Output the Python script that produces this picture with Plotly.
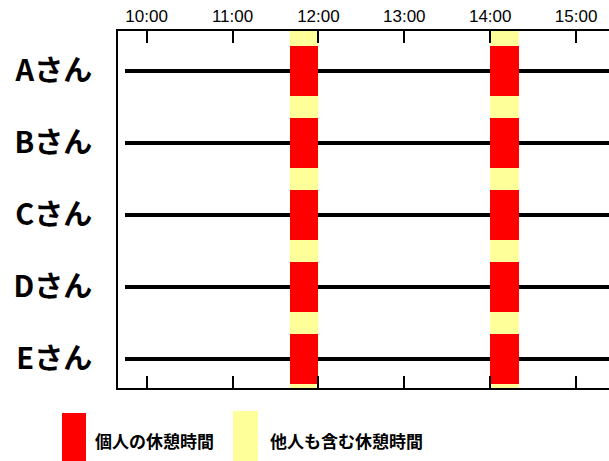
import plotly.graph_objects as go

# ---- data ----
persons = ["Aさん", "Bさん", "Cさん", "Dさん", "Eさん"]
work_start = "09:45"
work_end = "15:30"
break_starts = ["11:40", "14:00"]
break_ends = ["12:00", "14:20"]
tick_labels = ["10:00", "11:00", "12:00", "13:00", "14:00", "15:00"]
axis_start = "09:40"
axis_end = "15:23"
legend_labels = ["個人の休憩時間", "他人も含む休憩時間"]

RED = "#FF0000"
YELLOW = "#FFFF99"


def hrs(t):
    h, m = t.split(":")
    return int(h) + int(m) / 60.0


fig = go.Figure()

# yellow bands: breaks of anyone (full height)
for s, e in zip(break_starts, break_ends):
    fig.add_shape(type="rect", xref="x", yref="paper", x0=hrs(s), x1=hrs(e),
                  y0=0, y1=1, fillcolor=YELLOW, line_width=0, layer="below")

# black timeline per person
fig.add_trace(go.Bar(
    y=persons, x=[hrs(work_end) - hrs(work_start)] * len(persons),
    base=[hrs(work_start)] * len(persons), orientation="h", width=0.056,
    marker=dict(color="black", line_width=0), showlegend=False, hoverinfo="skip"))

# red personal breaks
ys, xs, bs = [], [], []
for p in persons:
    for s, e in zip(break_starts, break_ends):
        ys.append(p)
        xs.append(hrs(e) - hrs(s))
        bs.append(hrs(s))
fig.add_trace(go.Bar(
    y=ys, x=xs, base=bs, orientation="h", width=0.7,
    marker=dict(color=RED, line_width=0), showlegend=False, hoverinfo="skip"))

# manual legend (plot area spans to the window's right edge; the figure is a
# little wider than the window so its right border falls outside the view)
FIG_W, FIG_H = 640, 461
L, R, T, B = 118, FIG_W - 609, 31, 73
W, H = FIG_W - L - R, FIG_H - T - B


def px(xp):
    return (xp - L) / W


def py(yp):
    return (FIG_H - B - yp) / H


swatches = [(62, 86, 413, 470, RED, 93), (233, 258, 411, 470, YELLOW, 268)]
for (x0, x1, y0, y1, col, tx), lab in zip(swatches, legend_labels):
    fig.add_shape(type="rect", xref="paper", yref="paper", x0=px(x0), x1=px(x1),
                  y0=py(y1), y1=py(y0), fillcolor=col, line_width=0)
    fig.add_annotation(xref="paper", yref="paper", x=px(tx), y=py(440),
                       xanchor="left", yanchor="middle", text=lab, showarrow=False,
                       font=dict(family="Noto Sans CJK JP", size=17, color="black",
                                 weight="bold"))

fig.update_layout(
    width=FIG_W, height=FIG_H,
    margin=dict(l=L, r=R, t=T, b=B, autoexpand=False),
    paper_bgcolor="white", plot_bgcolor="white",
    barmode="overlay", bargap=0,
    xaxis=dict(
        range=[hrs(axis_start), hrs(axis_end)], side="top", automargin=False,
        tickvals=[hrs(t) for t in tick_labels], ticktext=tick_labels,
        ticks="inside", ticklen=12, tickwidth=2, tickcolor="black",
        showline=True, linewidth=2, linecolor="black", mirror="ticks",
        showgrid=False, zeroline=False,
        tickfont=dict(family="Liberation Sans", size=17, color="black"),
    ),
    yaxis=dict(
        type="category", categoryorder="array", categoryarray=persons,
        range=[4.403, -0.556], automargin=False,
        showline=True, linewidth=2, linecolor="black", mirror=False,
        ticks="", showgrid=False, zeroline=False, ticklabelstandoff=18,
        tickfont=dict(family="Noto Sans CJK JP", size=29, color="black",
                      weight="bold"),
    ),
)

fig.write_html("out.html",
               config={"displayModeBar": False},
               post_script="document.body.style.margin='0';"
                           "document.body.style.overflow='hidden';"
                           "document.documentElement.style.overflow='hidden';")
